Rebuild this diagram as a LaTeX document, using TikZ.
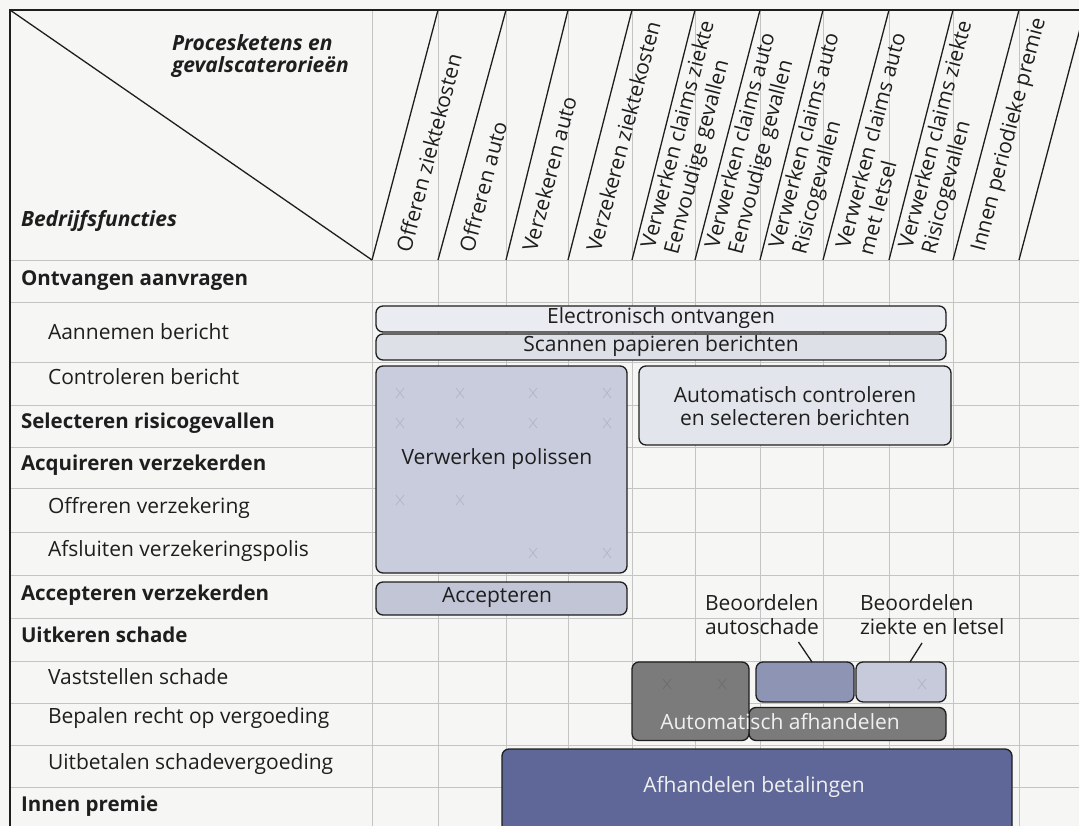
\documentclass[tikz,border=0pt]{standalone}
\usepackage{fontspec}
\setmainfont{Open Sans}
\usetikzlibrary{calc}
\definecolor{paper}{HTML}{F6F6F4}
\definecolor{gridc}{HTML}{C4C4C4}
\definecolor{ink}{HTML}{1E1E1E}
\definecolor{fElec}{HTML}{EBECF1}
\definecolor{fScan}{HTML}{DEE0E8}
\definecolor{fPol}{HTML}{C9CCDC}
\definecolor{fCtrl}{HTML}{E3E5EC}
\definecolor{fAcc}{HTML}{C1C5D6}
\definecolor{fGray}{HTML}{7B7B7B}
\definecolor{fAuto}{HTML}{8E95B4}
\definecolor{fZiek}{HTML}{C7CADB}
\definecolor{fPay}{HTML}{5E6797}
\definecolor{lighttext}{HTML}{F0F0F0}
\begin{document}
\begin{tikzpicture}[x=1pt,y=-1pt,
  every node/.style={inner sep=0pt, outer sep=0pt, text=ink},
  gridline/.style={draw=gridc, line width=0.9pt},
  rule/.style={draw=ink, line width=1.3pt},
  frame/.style={draw=ink, line width=2.2pt},
  leader/.style={draw=ink, line width=1.3pt},
  rowlbl/.style={font=\fontsize{21}{24}\selectfont, anchor=mid west},
  rowhead/.style={font=\fontsize{20.5}{24}\selectfont\bfseries, anchor=mid west},
  colhead/.style={font=\fontsize{21}{24}\selectfont, rotate=75.3, anchor=west, align=left},
  box/.style={draw=ink, line width=1.3pt, rounded corners=7pt, anchor=north west},
  boxtext/.style={font=\fontsize{21}{23.5}\selectfont, align=center, anchor=mid},
  xmark/.style={draw=black, opacity=0.10, line width=0.8pt},
  xmk/.pic={\draw[xmark] (-4,-5) -- (4,5) (-4,5) -- (4,-5);},
]
\useasboundingbox (0,0) rectangle (1079,826);
\clip (0,0) rectangle (1079,826);
\fill[paper] (0,0) rectangle (1079,826);

% light grid of the matrix
\foreach \gx in {372,438,506,568,632,695,760,823,889,953,1019}
  \draw[gridline] (\gx,10) -- (\gx,830);
\foreach \gy in {260,302,362,405,447,488,532,575,618,661,703,745,787}
  \draw[gridline] (10,\gy) -- (1085,\gy);

% header: diagonal split and slanted column dividers
\draw[rule] (10,10) -- (372,260);
\foreach \a/\b in {372/438,438/506,506/568,568/632,632/695,695/760,760/823,823/889,889/953,953/1019,1019/1085}
  \draw[rule] (\a,260) -- (\b,10);
\draw[frame] (10,830) -- (10,10) -- (1085,10);

\node[font=\fontsize{21}{22.5}\selectfont\bfseries\itshape, align=left, anchor=west] (proc) at (172,56) {Procesketens en\\gevalscaterorieën};
\node[font=\fontsize{21}{24}\selectfont\bfseries\itshape, anchor=mid west] (bedr) at (21,224) {Bedrijfsfuncties};

% column headings
\node[colhead] (c1) at (403,251) {Offeren ziektekosten};
\node[colhead] (c2) at (466,251) {Offreren auto};
\node[colhead] (c3) at (529,251) {Verzekeren auto};
\node[colhead] (c4) at (593,251) {Verzekeren ziektekosten};
\node[colhead] (c5) at (661,251) {Verwerken claims ziekte\\Eenvoudige gevallen};
\node[colhead] (c6) at (725,251) {Verwerken claims auto\\Eenvoudige gevallen};
\node[colhead] (c7) at (789,251) {Verwerken claims auto\\Risicogevallen};
\node[colhead] (c8) at (853.5,251) {Verwerken claims auto\\met letsel};
\node[colhead] (c9) at (918.5,251) {Verwerken claims ziekte\\Risicogevallen};
\node[colhead] (c10) at (979,251) {Innen periodieke premie};

% row headings
\node[rowhead] (r1) at (21,283) {Ontvangen aanvragen};
\node[rowlbl] (r2) at (48,337) {Aannemen bericht};
\node[rowlbl] (r3) at (48,382) {Controleren bericht};
\node[rowhead] (r4) at (21,426) {Selecteren risicogevallen};
\node[rowhead] (r5) at (21,468) {Acquireren verzekerden};
\node[rowlbl] (r6) at (48,511) {Offreren verzekering};
\node[rowlbl] (r7) at (48,554) {Afsluiten verzekeringspolis};
\node[rowhead] (r8) at (21,598) {Accepteren verzekerden};
\node[rowhead] (r9) at (21,640) {Uitkeren schade};
\node[rowlbl] (r10) at (48,682) {Vaststellen schade};
\node[rowlbl] (r11) at (48,721) {Bepalen recht op vergoeding};
\node[rowlbl] (r12) at (48,767) {Uitbetalen schadevergoeding};
\node[rowhead] (r13) at (21,809) {Innen premie};

% application blocks
\node[box, fill=fElec, minimum width=570, minimum height=26] (elec) at (376,306) {};
\node[box, fill=fScan, minimum width=570, minimum height=26] (scan) at (376,334) {};
\node[box, fill=fPol, minimum width=251, minimum height=207] (pol) at (376,366) {};
\node[box, fill=fCtrl, minimum width=312, minimum height=79] (ctrl) at (639,366) {};
\node[box, fill=fAcc, minimum width=251, minimum height=33] (acc) at (376,582) {};
\node[box, fill=fGray, minimum width=197, minimum height=33] (grayB) at (749,707.5) {};
\node[box, fill=fGray, minimum width=117, minimum height=78.5] (grayA) at (632,662) {};
\node[box, fill=fAuto, minimum width=98, minimum height=40] (autoB) at (756,662) {};
\node[box, fill=fZiek, minimum width=90, minimum height=40] (ziekB) at (856,662) {};
\node[box, fill=fPay, minimum width=510, minimum height=100] (pay) at (502,749) {};

% faint crosses of the underlying matrix
\foreach \px/\py in {400/393,460/393,533/393,607/393,400/423,460/423,533/423,607/423,400/500,460/500,533/553,607/553,667/684,722/684,922/684}
  \pic at (\px,\py) {xmk};

% block labels
\node[boxtext] (elecT) at (661,321) {Electronisch ontvangen};
\node[boxtext] (scanT) at (661,349) {Scannen papieren berichten};
\node[boxtext] (polT) at (497,462) {Verwerken polissen};
\node[boxtext, anchor=center] (ctrlT) at (795,406) {Automatisch controleren\\en selecteren berichten};
\node[boxtext] (accT) at (497,600) {Accepteren};
\node[boxtext, text=lighttext] (grayT) at (780,727) {Automatisch afhandelen};
\node[boxtext, text=lighttext] (payT) at (754,790) {Afhandelen betalingen};

% callouts above the assessment blocks
\node[font=\fontsize{21}{24}\selectfont, align=left, anchor=west] (labA) at (705,615) {Beoordelen\\autoschade};
\node[font=\fontsize{21}{24}\selectfont, align=left, anchor=west] (labZ) at (860,615) {Beoordelen\\ziekte en letsel};
\coordinate (la) at (798.5,642);
\coordinate (lz) at (922,643);
\draw[leader] (la) -- ([xshift=7pt]autoB.north);
\draw[leader] (lz) -- ([xshift=9pt]ziekB.north);
\end{tikzpicture}
\end{document}
